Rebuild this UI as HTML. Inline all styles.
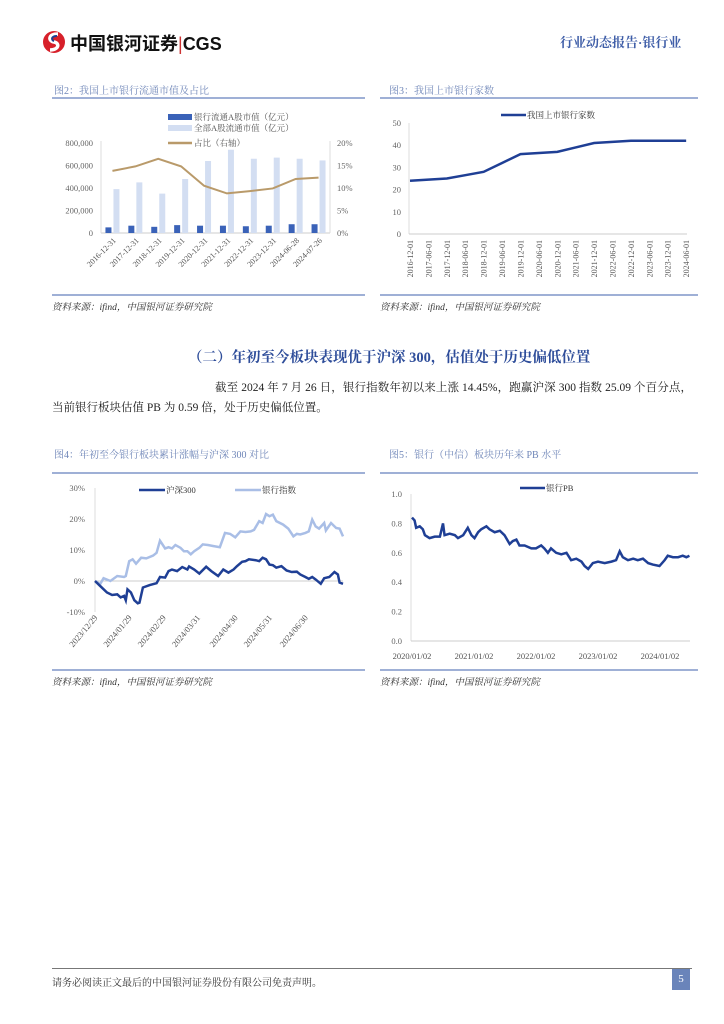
<!DOCTYPE html>
<html><head><meta charset="utf-8">
<style>
body{margin:0;background:#fff;}
#page{position:relative;width:724px;height:1024px;overflow:hidden;font-family:"Liberation Serif","Noto Serif CJK SC","Noto Sans CJK SC",serif;color:#222;}
.abs{position:absolute;}
.ctitle{font-size:10px;color:#6f86b8;}
.rule{position:absolute;height:1.5px;background:#9fb0d6;}
.src{font-size:9.5px;color:#333;font-style:italic;}
svg text{font-family:"Liberation Serif","Noto Serif CJK SC",serif;}
</style></head>
<body><div id="page">

<div class="abs" style="left:40px;top:28px;width:200px;height:28px;">
 <svg width="24" height="24" style="position:absolute;left:2px;top:2px"><circle cx="12" cy="12" r="11" fill="#d7202a"/><path d="M16 4 C6 4 6 11 12 12 C18 13 17 20 8 20" stroke="#fff" stroke-width="3.5" fill="none"/><path d="M15 6 C9 6 9 10 12 11" stroke="#1f3f8f" stroke-width="2" fill="none"/></svg>
 <div class="abs" style="left:30px;top:2px;font-family:'Liberation Sans','Noto Sans CJK SC',sans-serif;font-weight:bold;font-size:18px;color:#111;white-space:nowrap;">中国银河证券<span style="color:#c33;font-weight:normal">|</span>CGS</div>
</div>
<div class="abs" style="left:560px;top:32px;font-size:13px;font-weight:bold;color:#3f5ea8;white-space:nowrap;">行业动态报告·银行业</div>

<!-- Chart 2 -->
<div class="abs ctitle" style="left:54px;top:82px;">图2：我国上市银行流通市值及占比</div>
<div class="rule" style="left:52px;top:97px;width:313px;"></div>
<svg class="abs" style="left:0;top:0" width="724" height="1024" id="svgAll"></svg>
<div class="rule" style="left:52px;top:294px;width:313px;"></div>
<div class="abs src" style="left:52px;top:299px;">资料来源：ifind，中国银河证券研究院</div>

<!-- Chart 3 -->
<div class="abs ctitle" style="left:389px;top:82px;">图3：我国上市银行家数</div>
<div class="rule" style="left:380px;top:97px;width:318px;"></div>
<div class="rule" style="left:380px;top:294px;width:318px;"></div>
<div class="abs src" style="left:380px;top:299px;">资料来源：ifind，中国银河证券研究院</div>

<div class="abs" style="left:188px;top:346px;font-size:14.5px;font-weight:bold;color:#2e4d9a;white-space:nowrap;">（二）年初至今板块表现优于沪深 300，估值处于历史偏低位置</div>
<div class="abs" style="left:52px;top:378px;width:640px;font-size:11.5px;line-height:20px;color:#222;text-indent:163px;text-align:justify;">截至 2024 年 7 月 26 日，银行指数年初以来上涨 14.45%，跑赢沪深 300 指数 25.09 个百分点，当前银行板块估值 PB 为 0.59 倍，处于历史偏低位置。</div>

<div class="abs ctitle" style="left:54px;top:446px;">图4：年初至今银行板块累计涨幅与沪深 300 对比</div>
<div class="rule" style="left:52px;top:472px;width:313px;"></div>
<div class="rule" style="left:52px;top:669px;width:313px;"></div>
<div class="abs src" style="left:52px;top:674px;">资料来源：ifind，中国银河证券研究院</div>

<div class="abs ctitle" style="left:389px;top:446px;">图5：银行（中信）板块历年来 PB 水平</div>
<div class="rule" style="left:380px;top:472px;width:318px;"></div>
<div class="rule" style="left:380px;top:669px;width:318px;"></div>
<div class="abs src" style="left:380px;top:674px;">资料来源：ifind，中国银河证券研究院</div>

<div class="abs" style="left:52px;top:968px;width:640px;height:1px;background:#777;"></div>
<div class="abs" style="left:52px;top:974px;font-size:10px;color:#333;">请务必阅读正文最后的中国银河证券股份有限公司免责声明。</div>
<div class="abs" style="left:672px;top:969px;width:18px;height:21px;background:#6a84ba;color:#fff;font-size:11px;text-align:center;line-height:21px;">5</div>

<script>
// Chart 2 data
const c2Cats=["2016-12-31","2017-12-31","2018-12-31","2019-12-31","2020-12-31","2021-12-31","2022-12-31","2023-12-31","2024-06-28","2024-07-26"];
const c2Bank=[50000,65000,55000,70000,65000,65000,60000,65000,78000,78000];
const c2All=[390000,450000,350000,480000,640000,740000,660000,670000,660000,645000];
const c2Ratio=[13.8,14.8,16.5,14.8,10.5,8.8,9.3,9.9,12.0,12.3];
const c2LeftTicks=["0","200,000","400,000","600,000","800,000"];
const c2RightTicks=["0%","5%","10%","15%","20%"];
// Chart 3 data
const c3Cats=["2016-12-01","2017-06-01","2017-12-01","2018-06-01","2018-12-01","2019-06-01","2019-12-01","2020-06-01","2020-12-01","2021-06-01","2021-12-01","2022-06-01","2022-12-01","2023-06-01","2023-12-01","2024-06-01"];
const c3Vals=[24,24.5,25,26.5,28,32,36,36.5,37,39,41,41.5,42,42,42,42];
const c3Ticks=[0,10,20,30,40,50];
// Chart 4 data (trading-day index, cumulative %)
const c4HsDays=[0,3,7,10,13,15,17,18,19,21,23,25,26,28,32,36,38,41,43,45,48,51,54,55,58,61,65,68,72,75,78,81,83,86,88,90,94,96,98,100,102,104,106,109,112,115,118,120,123,125,127,129,132,134,137,140,142,143,145];
const c4HsVals=[0,-1.6,-3.7,-4.5,-4.3,-5.3,-4.8,-6.2,-2.7,-3.7,-6.2,-7.2,-7,-2.1,-1.3,-0.7,1.3,1.1,3.2,3.7,3.2,4.5,3.7,4.7,3.7,2.4,4.6,3.2,1.6,3.7,2.7,3.7,4.8,6.2,6.4,7,6.7,6.4,7.5,7,5.3,5.1,4.3,4.8,3.4,2.9,3,2.1,1.3,0.7,1.3,0.5,-0.9,0.9,1.3,2.9,2.1,-0.5,-0.9];
const c4BkDays=[0,3,5,9,13,17,18,20,22,24,27,30,34,36,38,41,43,45,47,50,52,54,56,58,61,63,66,69,73,76,79,82,85,88,91,93,96,98,100,102,104,106,110,113,116,118,120,123,125,127,129,131,134,135,138,141,143,145];
const c4BkVals=[0,-1,0.9,0,1.6,1.3,1.6,6.4,7,5.6,7.5,7.3,8.2,9.1,13,10.5,10.9,10.5,11.6,10.7,9.6,9.6,8.6,9.6,10.7,11.8,11.6,11.3,10.9,15.5,15.2,14.1,16,15.8,16,16.5,19.3,18.7,21.6,20.9,21.4,19.3,18.2,16.9,14.4,15.2,15,15.5,16,19.8,17.6,16.9,18.7,16.3,18.7,17.1,16.9,14.4];
const c4Ticks=[-10,0,10,20,30];
const c4DateLabels=["2023/12/29","2024/01/29","2024/02/29","2024/03/31","2024/04/30","2024/05/31","2024/06/30"];
const c4DateDays=[0,20,40,60,82,102,123];
// Chart 5 data (months since 2020/01, PB)
const c5Months=[0,0.5,0.8,1.5,2.1,2.5,3.4,4.4,5.4,6,6.3,7.3,8.3,8.9,9.9,10.8,11.5,12.1,12.8,13.4,14.4,15,16,17,17.9,18.9,19.5,20.2,20.8,21.8,23.1,24,25,25.6,26.3,26.9,27.9,28.9,29.9,30.8,31.8,32.8,33.4,34.1,35,36,37.3,38.6,39.5,40.2,40.8,41.8,42.8,43.7,44.7,45.7,46.6,47.9,48.9,49.5,50.5,51.5,52.4,53.1,53.7];
const c5Vals=[0.84,0.82,0.77,0.78,0.76,0.72,0.70,0.71,0.71,0.80,0.72,0.73,0.72,0.70,0.72,0.77,0.72,0.70,0.74,0.76,0.78,0.76,0.74,0.75,0.72,0.66,0.68,0.69,0.65,0.65,0.63,0.63,0.65,0.63,0.60,0.63,0.60,0.59,0.60,0.55,0.56,0.54,0.51,0.49,0.53,0.54,0.53,0.54,0.55,0.61,0.57,0.55,0.56,0.55,0.56,0.53,0.52,0.51,0.55,0.58,0.57,0.57,0.58,0.57,0.58];
const c5Ticks=["0.0","0.2","0.4","0.6","0.8","1.0"];
const c5Labels=["2020/01/02","2021/01/02","2022/01/02","2023/01/02","2024/01/02"];

const svg=document.getElementById('svgAll');
const NS="http://www.w3.org/2000/svg";
function mk(tag,attrs,parent){const e=document.createElementNS(NS,tag);for(const k in attrs)e.setAttribute(k,attrs[k]);(parent||svg).appendChild(e);return e;}
function txt(x,y,s,attrs){const e=mk('text',Object.assign({x:x,y:y,'font-size':8.5,fill:'#555'},attrs||{}));e.textContent=s;return e;}

// ---- Chart 2 ----
(function(){
 const L=101,R=330,T=143,B=233;
 const g=mk('g',{});
 
 
 const y=v=>B-v/800000*(B-T), yr=v=>B-v/20*(B-T);
 const bw=(R-L)/c2Cats.length;
 mk('line',{x1:L,y1:B,x2:R,y2:B,stroke:'#ccc'},g);
 mk('line',{x1:L,y1:T-2,x2:L,y2:B,stroke:'#ddd'},g);
 mk('line',{x1:R,y1:T-2,x2:R,y2:B,stroke:'#ddd'},g);
 c2LeftTicks.forEach((t,i)=>{txt(L-8,y(i*200000)+3,t,{'text-anchor':'end',fill:'#666'});});
 c2RightTicks.forEach((t,i)=>{txt(R+7,yr(i*5)+3,t,{fill:'#666'});});
 c2Cats.forEach((c,i)=>{
  const cx=L+bw*(i+0.5);
  const b1=mk('rect',{x:cx-7,y:y(c2Bank[i]),width:6,height:B-y(c2Bank[i]),fill:'#3a62b8'},g);
  
  
  const b2=mk('rect',{x:cx+1,y:y(c2All[i]),width:6,height:B-y(c2All[i]),fill:'#d3def2'},g);
  
  
  const t=txt(cx+4,B+8,c,{'text-anchor':'end',transform:`rotate(-45 ${cx+4} ${B+8})`,'font-size':8});
  
  
 });
 const pts=c2Ratio.map((v,i)=>(L+bw*(i+0.5))+','+yr(v)).join(' ');
 const pl=mk('polyline',{points:pts,fill:'none',stroke:'#b99a6a','stroke-width':2},g);
 
 
 mk('rect',{x:168,y:114,width:24,height:6,fill:'#3a62b8'},g);
 txt(194,120,'银行流通A股市值（亿元）',{'font-size':8.5});
 mk('rect',{x:168,y:125,width:24,height:6,fill:'#d3def2'},g);
 txt(194,131,'全部A股流通市值（亿元）',{'font-size':8.5});
 mk('line',{x1:168,y1:143,x2:192,y2:143,stroke:'#b99a6a','stroke-width':2.5},g);
 txt(194,146,'占比（右轴）',{'font-size':8.5});
})();

// ---- Chart 3 ----
(function(){
 const L=409,R=687,T=123,B=234;
 const y=v=>B-v/50*(B-T);
 const step=(R-L)/(c3Cats.length-1+0.1);
 const x=i=>L+1+i*step;
 mk('line',{x1:L,y1:T,x2:L,y2:B,stroke:'#ddd'});
 mk('line',{x1:L,y1:B,x2:R,y2:B,stroke:'#ccc'});
 c3Ticks.forEach(t=>txt(L-8,y(t)+3,String(t),{'text-anchor':'end',fill:'#666'}));
 c3Cats.forEach((c,i)=>{const t=txt(x(i)+3,B+6,c,{'text-anchor':'end',transform:`rotate(-90 ${x(i)+3} ${B+6})`,'font-size':8});
  
  });
 const pl=mk('polyline',{points:c3Vals.map((v,i)=>x(i)+','+y(v)).join(' '),fill:'none',stroke:'#1f3f95','stroke-width':2.5});
 
 
 mk('line',{x1:501,y1:115,x2:526,y2:115,stroke:'#1f3f95','stroke-width':2.5});
 txt(527,118,'我国上市银行家数',{'font-size':8.5,fill:'#333'});
})();

// ---- Chart 4 ----
(function(){
 const L=95,R=343,T=488,B=612;
 const y=v=>B-(v+10)/40*(B-T);
 const x=d=>L+d/145*(R-L);
 mk('line',{x1:L,y1:T,x2:L,y2:B,stroke:'#ddd'});
 mk('line',{x1:L,y1:y(0),x2:R,y2:y(0),stroke:'#ccc'});
 c4Ticks.forEach(t=>txt(L-10,y(t)+3,t+'%',{'text-anchor':'end',fill:'#666'}));
 c4DateLabels.forEach((c,i)=>{const xx=x(c4DateDays[i])+3;const t=txt(xx,B+6,c,{'text-anchor':'end',transform:`rotate(-50 ${xx} ${B+6})`,'font-size':8.5});
  
  });
 const bk=mk('polyline',{points:c4BkDays.map((d,i)=>x(d)+','+y(c4BkVals[i])).join(' '),fill:'none',stroke:'#a9bee6','stroke-width':2.5});
 
 
 const hs=mk('polyline',{points:c4HsDays.map((d,i)=>x(d)+','+y(c4HsVals[i])).join(' '),fill:'none',stroke:'#1f3f95','stroke-width':2.5});
 
 
 mk('line',{x1:139,y1:490,x2:165,y2:490,stroke:'#1f3f95','stroke-width':2.5});
 txt(166,493,'沪深300',{fill:'#333'});
 mk('line',{x1:235,y1:490,x2:261,y2:490,stroke:'#a9bee6','stroke-width':2.5});
 txt(262,493,'银行指数',{fill:'#333'});
})();

// ---- Chart 5 ----
(function(){
 const L=411,R=690,T=494,B=641;
 const y=v=>B-v*(B-T);
 const x=m=>L+1+m*(62/12);
 mk('line',{x1:L,y1:T,x2:L,y2:B,stroke:'#ddd'});
 mk('line',{x1:L,y1:B,x2:R,y2:B,stroke:'#ccc'});
 c5Ticks.forEach((t,i)=>txt(L-9,y(i*0.2)+3,t,{'text-anchor':'end',fill:'#666'}));
 c5Labels.forEach((c,i)=>{const t=txt(x(i*12),B+18,c,{'text-anchor':'middle','font-size':8.5});
  
  });
 const pl=mk('polyline',{points:c5Months.map((m,i)=>x(m)+','+y(c5Vals[i])).join(' '),fill:'none',stroke:'#1f3f95','stroke-width':2.5});
 
 
 mk('line',{x1:520,y1:488,x2:545,y2:488,stroke:'#1f3f95','stroke-width':2.5});
 txt(546,491,'银行PB',{fill:'#333'});
})();
</script>
</div></body></html>
